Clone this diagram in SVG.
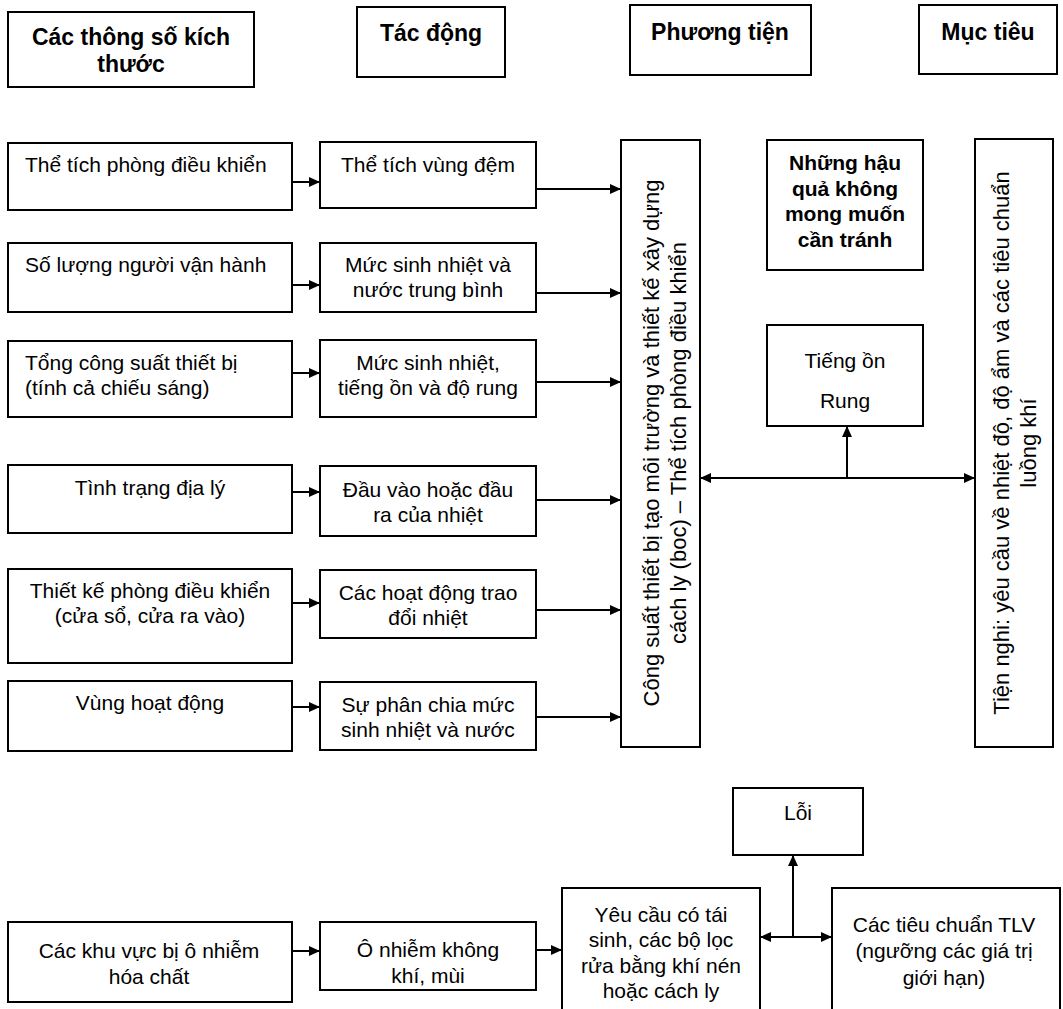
<svg xmlns="http://www.w3.org/2000/svg" width="1063" height="1009" viewBox="0 0 1063 1009">
<defs>
<marker id="ah" markerUnits="userSpaceOnUse" markerWidth="12" markerHeight="10" refX="11" refY="5" orient="auto-start-reverse">
<path d="M0,0 L11,5 L0,10 z" fill="#000"/>
</marker>
<style>
rect{fill:#fff;stroke:#000;stroke-width:2}
text{font-family:"Liberation Sans",Arial,sans-serif;font-size:21px;fill:#000}
.h{font-weight:bold;font-size:23px;text-anchor:middle}
.b{font-weight:bold;text-anchor:middle}
.c{text-anchor:middle}
.v{text-anchor:middle;font-size:22px}
#connectors line{stroke:#000;stroke-width:2;fill:none}
.a{marker-end:url(#ah)}
.aa{marker-end:url(#ah);marker-start:url(#ah)}
</style>
</defs>
<rect width="1063" height="1009" style="fill:#fff;stroke:none"/>

<g id="hdr1"><rect x="8" y="12" width="246" height="75"/><text class="h" x="131" y="45">Các thông số kích</text><text class="h" x="131" y="72">thước</text></g>
<g id="hdr2"><rect x="357" y="7" width="148" height="70"/><text class="h" x="431" y="41">Tác động</text></g>
<g id="hdr3"><rect x="630" y="5" width="181" height="70"/><text class="h" x="720" y="40">Phương tiện</text></g>
<g id="hdr4"><rect x="919" y="5" width="138" height="69"/><text class="h" x="988" y="40">Mục tiêu</text></g>

<g id="l1"><rect x="8" y="143" width="284" height="67"/><text x="25" y="172">Thể tích phòng điều khiển</text></g>
<g id="l2"><rect x="8" y="243" width="284" height="69"/><text x="25" y="272">Số lượng người vận hành</text></g>
<g id="l3"><rect x="8" y="341" width="284" height="76"/><text x="25" y="370">Tổng công suất thiết bị</text><text x="25" y="395">(tính cả chiếu sáng)</text></g>
<g id="l4"><rect x="8" y="465" width="284" height="68"/><text class="c" x="150" y="495">Tình trạng địa lý</text></g>
<g id="l5"><rect x="8" y="569" width="284" height="94"/><text class="c" x="150" y="598">Thiết kế phòng điều khiển</text><text class="c" x="150" y="623">(cửa sổ, cửa ra vào)</text></g>
<g id="l6"><rect x="8" y="681" width="284" height="70"/><text class="c" x="150" y="710">Vùng hoạt động</text></g>

<g id="m1"><rect x="320" y="142" width="216" height="66"/><text class="c" x="428" y="172">Thể tích vùng đệm</text></g>
<g id="m2"><rect x="320" y="243" width="216" height="69"/><text class="c" x="428" y="272">Mức sinh nhiệt và</text><text class="c" x="428" y="297">nước trung bình</text></g>
<g id="m3"><rect x="320" y="340" width="216" height="77"/><text class="c" x="428" y="370">Mức sinh nhiệt,</text><text class="c" x="428" y="395">tiếng ồn và độ rung</text></g>
<g id="m4"><rect x="320" y="466" width="216" height="70"/><text class="c" x="428" y="497">Đầu vào hoặc đầu</text><text class="c" x="428" y="522">ra của nhiệt</text></g>
<g id="m5"><rect x="320" y="570" width="216" height="68"/><text class="c" x="428" y="600">Các hoạt động trao</text><text class="c" x="428" y="625">đổi nhiệt</text></g>
<g id="m6"><rect x="320" y="682" width="216" height="68"/><text class="c" x="428" y="712">Sự phân chia mức</text><text class="c" x="428" y="737">sinh nhiệt và nước</text></g>

<g id="means"><rect x="621" y="140" width="79" height="607"/>
<text class="v" transform="translate(659,443) rotate(-90)">Công suất thiết bị tạo môi trường và thiết kế xây dựng</text>
<text class="v" transform="translate(686,443) rotate(-90)">cách ly (boc) – Thể tích phòng điều khiển</text></g>

<g id="goal"><rect x="975" y="139" width="78" height="608"/>
<text class="v" transform="translate(1009,443) rotate(-90)">Tiện nghi: yêu cầu về nhiệt độ, độ ẩm và các tiêu chuẩn</text>
<text class="v" transform="translate(1036,443) rotate(-90)">luồng khí</text></g>

<g id="avoid"><rect x="767" y="140" width="156" height="130"/><text class="b" x="845" y="170">Những hậu</text><text class="b" x="845" y="196">quả không</text><text class="b" x="845" y="221">mong muốn</text><text class="b" x="845" y="247">cần tránh</text></g>
<g id="noise"><rect x="767" y="325" width="156" height="101"/><text class="c" x="845" y="368">Tiếng ồn</text><text class="c" x="845" y="408">Rung</text></g>

<g id="b1"><rect x="8" y="922" width="284" height="80"/><text class="c" x="149" y="958">Các khu vực bị ô nhiễm</text><text class="c" x="149" y="984">hóa chất</text></g>
<g id="b2"><rect x="320" y="922" width="216" height="68"/><text class="c" x="428" y="957">Ô nhiễm không</text><text class="c" x="428" y="983">khí, mùi</text></g>
<g id="b3"><rect x="562" y="888" width="198" height="130"/><text class="c" x="661" y="922">Yêu cầu có tái</text><text class="c" x="661" y="947">sinh, các bộ lọc</text><text class="c" x="661" y="973">rửa bằng khí nén</text><text class="c" x="661" y="998">hoặc cách ly</text></g>
<g id="b4"><rect x="832" y="888" width="228" height="130"/><text class="c" x="944" y="932">Các tiêu chuẩn TLV</text><text class="c" x="944" y="958">(ngưỡng các giá trị</text><text class="c" x="944" y="985">giới hạn)</text></g>
<g id="err"><rect x="733" y="788" width="130" height="67"/><text class="c" x="798" y="820">Lỗi</text></g>

<g id="connectors">
<line class="a" x1="292" y1="182" x2="320" y2="182"/>
<line class="a" x1="292" y1="285" x2="320" y2="285"/>
<line class="a" x1="292" y1="373" x2="320" y2="373"/>
<line class="a" x1="292" y1="492" x2="320" y2="492"/>
<line class="a" x1="292" y1="603" x2="320" y2="603"/>
<line class="a" x1="292" y1="707" x2="320" y2="707"/>
<line class="a" x1="536" y1="189" x2="621" y2="189"/>
<line class="a" x1="536" y1="293" x2="621" y2="293"/>
<line class="a" x1="536" y1="382" x2="621" y2="382"/>
<line class="a" x1="536" y1="500" x2="621" y2="500"/>
<line class="a" x1="536" y1="610" x2="621" y2="610"/>
<line class="a" x1="536" y1="717" x2="621" y2="717"/>
<line class="aa" x1="700" y1="478" x2="975" y2="478"/>
<line class="a" x1="847" y1="478" x2="847" y2="426"/>
<line class="a" x1="292" y1="951" x2="320" y2="951"/>
<line class="a" x1="536" y1="950" x2="562" y2="950"/>
<line class="aa" x1="760" y1="937" x2="832" y2="937"/>
<line class="a" x1="793" y1="937" x2="793" y2="855"/>
</g>
</svg>
